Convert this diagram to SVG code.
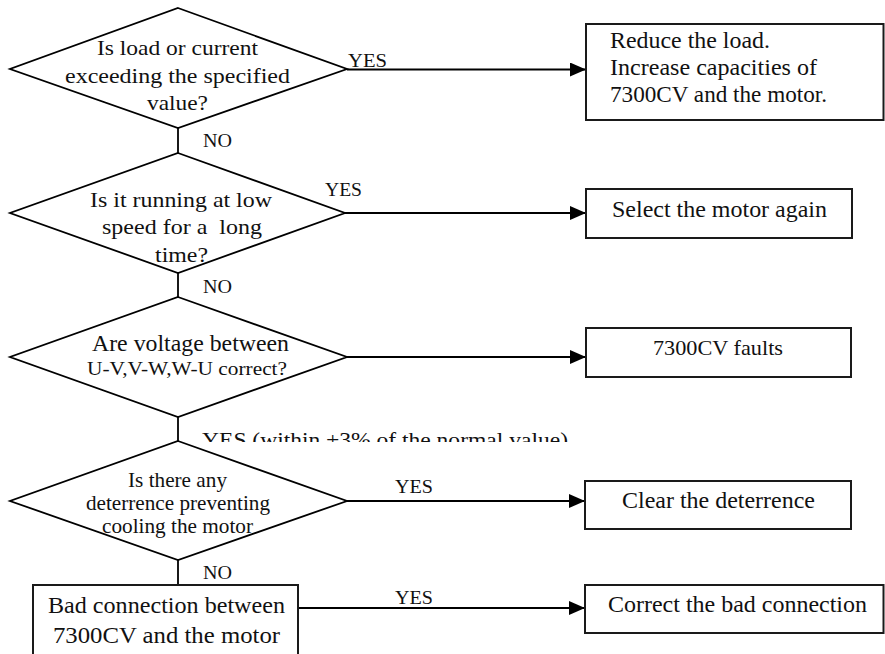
<svg xmlns="http://www.w3.org/2000/svg" width="885" height="654" viewBox="0 0 885 654">
<style>
  .shape { fill: #fff; stroke: #000; stroke-width: 1.8; }
  .box { fill: #fff; stroke: #1a1a1a; stroke-width: 2; }
  .conn { fill: none; stroke: #000; stroke-width: 1.8; }
  text { font-family: "Liberation Serif", "Times New Roman", serif; fill: #111; white-space: pre; }
  .dt { font-size: 22px; }
  .bt { font-size: 24px; }
  .lbl { font-size: 18px; }
</style>
<defs>
  <marker id="arr" markerUnits="userSpaceOnUse" markerWidth="16" markerHeight="14" refX="16" refY="7" orient="auto">
    <path d="M0,0 L16,7 L0,14 z" fill="#000"/>
  </marker>
  <clipPath id="clipYes">
    <rect x="0" y="400" width="885" height="42"/>
  </clipPath>
</defs>

<g id="connectors">
  <line class="conn" x1="347" y1="69.5" x2="586" y2="69.5" marker-end="url(#arr)"/>
  <line class="conn" x1="178" y1="128" x2="178" y2="153"/>
  <line class="conn" x1="345" y1="213" x2="586" y2="213" marker-end="url(#arr)"/>
  <line class="conn" x1="178" y1="273" x2="178" y2="297"/>
  <line class="conn" x1="347" y1="357" x2="586" y2="357" marker-end="url(#arr)"/>
  <line class="conn" x1="178" y1="417" x2="178" y2="441"/>
  <line class="conn" x1="347" y1="501" x2="585" y2="501" marker-end="url(#arr)"/>
  <line class="conn" x1="178" y1="560" x2="178" y2="585"/>
  <line class="conn" x1="298" y1="608" x2="585" y2="608" marker-end="url(#arr)"/>
  <text class="lbl" x="348" y="67" textLength="39" lengthAdjust="spacingAndGlyphs">YES</text>
  <text class="lbl" x="203" y="147" textLength="29" lengthAdjust="spacingAndGlyphs">NO</text>
  <text class="lbl" x="325" y="196" textLength="37" lengthAdjust="spacingAndGlyphs">YES</text>
  <text class="lbl" x="203" y="293" textLength="29" lengthAdjust="spacingAndGlyphs">NO</text>
  <g clip-path="url(#clipYes)">
    <text style="font-size:21px" x="202" y="447" textLength="366" lengthAdjust="spacingAndGlyphs">YES (within ±3% of the normal value)</text>
  </g>
  <text class="lbl" x="395" y="493" textLength="38" lengthAdjust="spacingAndGlyphs">YES</text>
  <text class="lbl" x="203" y="579" textLength="29" lengthAdjust="spacingAndGlyphs">NO</text>
  <text class="lbl" x="395" y="604" textLength="38" lengthAdjust="spacingAndGlyphs">YES</text>
</g>

<g id="d1">
  <polygon class="shape" points="178,8 347,69 178,128 10,69"/>
  <text class="dt" x="97" y="55" textLength="161" lengthAdjust="spacingAndGlyphs">Is load or current</text>
  <text class="dt" x="65" y="83" textLength="225" lengthAdjust="spacingAndGlyphs">exceeding the specified</text>
  <text class="dt" x="147" y="110" textLength="61" lengthAdjust="spacingAndGlyphs">value?</text>
</g>

<g id="d2">
  <polygon class="shape" points="178,153 345,213 178,273 10,213"/>
  <text class="dt" x="90" y="207" textLength="182" lengthAdjust="spacingAndGlyphs">Is it running at low</text>
  <text class="dt" x="102" y="234" textLength="160" lengthAdjust="spacingAndGlyphs">speed for a  long</text>
  <text class="dt" x="155" y="262" textLength="53" lengthAdjust="spacingAndGlyphs">time?</text>
</g>

<g id="d3">
  <polygon class="shape" points="178,297 347,357 178,417 10,357"/>
  <text class="dt" style="font-size:23px" x="92" y="351" textLength="197" lengthAdjust="spacingAndGlyphs">Are voltage between</text>
  <text class="dt" style="font-size:19px" x="87" y="375" textLength="200" lengthAdjust="spacingAndGlyphs">U-V,V-W,W-U correct?</text>
</g>

<g id="d4">
  <polygon class="shape" points="178,441 347,501 178,560 10,501"/>
  <text class="dt" style="font-size:21px" x="128" y="487" textLength="99" lengthAdjust="spacingAndGlyphs">Is there any</text>
  <text class="dt" style="font-size:21px" x="86" y="510" textLength="184" lengthAdjust="spacingAndGlyphs">deterrence preventing</text>
  <text class="dt" style="font-size:21px" x="102" y="533" textLength="151" lengthAdjust="spacingAndGlyphs">cooling the motor</text>
</g>

<g id="b1">
  <rect class="box" x="586" y="24" width="297.5" height="96"/>
  <text class="bt" x="610" y="48" textLength="160" lengthAdjust="spacingAndGlyphs">Reduce the load.</text>
  <text class="bt" x="610" y="75" textLength="207" lengthAdjust="spacingAndGlyphs">Increase capacities of</text>
  <text class="bt" x="610" y="102" textLength="217" lengthAdjust="spacingAndGlyphs">7300CV and the motor.</text>
</g>

<g id="b2">
  <rect class="box" x="586" y="189" width="266" height="49"/>
  <text class="bt" x="612" y="217" textLength="215" lengthAdjust="spacingAndGlyphs">Select the motor again</text>
</g>

<g id="b3">
  <rect class="box" x="586" y="328" width="265" height="49"/>
  <text class="bt" style="font-size:22px" x="653" y="355" textLength="130" lengthAdjust="spacingAndGlyphs">7300CV faults</text>
</g>

<g id="b4">
  <rect class="box" x="585" y="481" width="266" height="48"/>
  <text class="bt" x="622" y="508" textLength="193" lengthAdjust="spacingAndGlyphs">Clear the deterrence</text>
</g>

<g id="b5">
  <rect class="box" x="33" y="585" width="265" height="90"/>
  <text class="bt" x="48" y="613" textLength="237" lengthAdjust="spacingAndGlyphs">Bad connection between</text>
  <text class="bt" x="53" y="643" textLength="227" lengthAdjust="spacingAndGlyphs">7300CV and the motor</text>
</g>

<g id="b6">
  <rect class="box" x="585" y="585" width="298.5" height="48"/>
  <text class="bt" x="608" y="612" textLength="259" lengthAdjust="spacingAndGlyphs">Correct the bad connection</text>
</g>
</svg>
